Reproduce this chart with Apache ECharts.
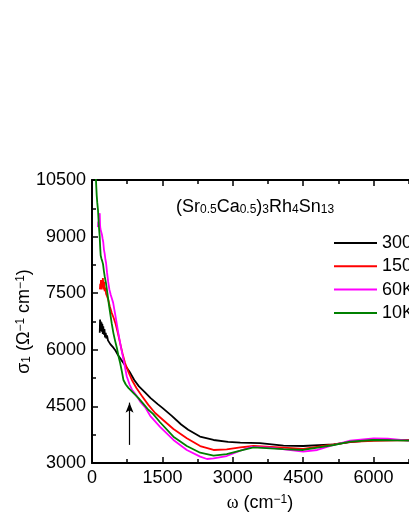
<!DOCTYPE html>
<html>
<head>
<meta charset="utf-8">
<script src="https://cdn.jsdelivr.net/npm/echarts@6/dist/echarts.min.js"></script>
<style>
    html, body { margin: 0; padding: 0; background: #fff; }
    #sigma_con { width: 409px; height: 529px; }
</style>
</head>
<body>
<div id="sigma_con"></div>
<script>
    // omega (cm^-1), sigma1 (Ohm^-1 cm^-1)
    var k300 = [[165,6450],[172,6800],[180,6550],[188,6750],[196,6500],[204,6720],[212,6480],[220,6680],[230,6420],[240,6620],[252,6400],[265,6550],[278,6330],[292,6450],[305,6300],[320,6380],[340,6250],[365,6200],[390,6150],[420,6100],[460,6050],[500,5980],[560,5850],[620,5740],[700,5600],[800,5420],[900,5200],[1000,5030],[1130,4870],[1250,4720],[1400,4560],[1500,4460],[1700,4250],[1900,4020],[2050,3880],[2300,3700],[2590,3610],[2900,3560],[3160,3540],[3580,3525],[4080,3460],[4500,3450],[5150,3495],[5500,3556],[6000,3610],[6500,3612],[7000,3605],[7500,3600]];
    var k150 = [[168,7600],[176,7750],[184,7650],[192,7850],[200,7600],[210,7800],[220,7650],[232,7900],[245,7600],[258,7800],[270,7550],[285,7650],[300,7480],[320,7420],[348,7320],[380,7150],[420,6980],[460,6850],[500,6700],[550,6450],[600,6170],[650,5900],[704,5650],[780,5400],[850,5200],[950,4980],[1060,4780],[1200,4540],[1345,4325],[1515,4140],[1735,3900],[2020,3655],[2305,3450],[2590,3345],[2870,3360],[3160,3415],[3440,3450],[4080,3410],[4500,3375],[5150,3490],[5500,3560],[6000,3585],[6500,3600],[7000,3605],[7500,3600]];
    var k60 = [[125,9250],[135,9400],[145,9300],[155,9500],[165,9620],[172,9300],[180,9200],[190,9150],[200,9250],[212,9050],[225,8950],[240,8850],[255,8650],[270,8550],[285,8400],[300,8300],[320,8050],[345,7800],[370,7600],[400,7450],[450,7250],[500,6900],[560,6450],[620,6050],[670,5750],[740,5300],[800,5080],[850,4950],[950,4780],[1030,4620],[1130,4480],[1240,4250],[1450,3960],[1735,3610],[2020,3345],[2305,3170],[2450,3106],[2590,3120],[2870,3185],[3160,3326],[3400,3430],[3800,3410],[4100,3360],[4500,3300],[4800,3345],[5150,3477],[5500,3590],[6000,3654],[6300,3645],[6750,3595],[7500,3580]];
    var k10 = [[78,10700],[90,10350],[100,10100],[112,9900],[128,9700],[145,9300],[164,9000],[175,8700],[185,8500],[200,8420],[218,8350],[235,8270],[252,8100],[270,7950],[300,7750],[330,7480],[360,7200],[384,7000],[420,6700],[455,6450],[490,6250],[530,6050],[570,5800],[600,5650],[640,5400],[670,5200],[720,5080],[775,4990],[880,4860],[990,4720],[1100,4560],[1200,4410],[1300,4300],[1450,4080],[1735,3697],[2020,3450],[2305,3273],[2590,3193],[2870,3238],[3160,3326],[3440,3415],[4080,3370],[4500,3345],[5150,3477],[5500,3565],[6000,3610],[6500,3600],[7000,3590],[7500,3590]];

    var seriesNames = ['300K', '150K', '60K', '10K'];
    var seriesColors = ['#000000', '#ff0000', '#ff00ff', '#008000'];
    var xRange = [0, 7500, 1500];
    var yRange = [3000, 10500, 1500];
    var arrowAt = [800, 3480, 4600]; // omega, sigma from, sigma to

    var font = '"Liberation Sans", Arial, sans-serif';
    var nameRich = {
        n: { fontSize: 18, lineHeight: 18, padding: [6, 0, 6, 0], fontFamily: font, color: '#000' },
        w: { fontSize: 18, lineHeight: 18, padding: [6, 0, 6, 0], fontFamily: '"Liberation Serif", serif', color: '#000' },
        sup: { fontSize: 12, lineHeight: 12, verticalAlign: 'top', fontFamily: font, color: '#000' },
        sub: { fontSize: 12, lineHeight: 12, verticalAlign: 'bottom', fontFamily: font, color: '#000' }
    };
    var titleRich = {
        n: { fontSize: 18, lineHeight: 18, padding: [0, 0, 5, 0], verticalAlign: 'top', fontWeight: 'normal', fontFamily: font, color: '#000' },
        sub: { fontSize: 12, lineHeight: 12, verticalAlign: 'bottom', fontWeight: 'normal', fontFamily: font, color: '#000' }
    };

    function axisCommon(showLabel) {
        return {
            axisLine: { show: true, lineStyle: { color: '#000', width: 2 } },
            axisTick: { show: true, inside: true, length: 6, lineStyle: { color: '#000', width: 1.5 } },
            minorTick: { show: true, splitNumber: 2, length: 4, lineStyle: { color: '#000', width: 1.5 } },
            axisLabel: {
                show: showLabel, margin: 6, fontSize: 18, color: '#000', fontFamily: font,
                formatter: function (v) { return String(v); }
            },
            splitLine: { show: false }
        };
    }

    var xBottom = Object.assign({
        type: 'value', position: 'bottom', min: xRange[0], max: xRange[1], interval: xRange[2],
        name: '{w|ω}{n| (cm}{sup|−1}{n|)}',
        nameLocation: 'middle', nameGap: 31, nameMoveOverlap: false,
        nameTextStyle: { rich: nameRich, padding: [0, 16, 0, 0] }
    }, axisCommon(true));
    var xTop = Object.assign({
        type: 'value', position: 'top', min: xRange[0], max: xRange[1], interval: xRange[2]
    }, axisCommon(false));
    var yLeft = Object.assign({
        type: 'value', position: 'left', min: yRange[0], max: yRange[1], interval: yRange[2],
        name: '{n|σ}{sub|1}{n| (Ω}{sup|−1}{n| cm}{sup|−1}{n|)}',
        nameLocation: 'middle', nameGap: 59, nameMoveOverlap: false,
        nameTextStyle: { rich: nameRich }
    }, axisCommon(true));

    var allData = [k300, k150, k60, k10];
    var series = allData.map(function (d, i) {
        return {
            name: seriesNames[i],
            type: 'line',
            data: d,
            symbol: 'none',
            showSymbol: false,
            clip: true,
            lineStyle: { color: seriesColors[i], width: 1.8 },
            itemStyle: { color: seriesColors[i] }
        };
    });
    series[0].markLine = {
        silent: true,
        symbol: ['none', 'arrow'],
        symbolSize: [6, 10],
        label: { show: false },
        lineStyle: { color: '#000', width: 1.2, type: 'solid' },
        data: [[{ coord: [arrowAt[0], arrowAt[1]] }, { coord: [arrowAt[0], arrowAt[2]] }]]
    };

    var option = {
        animation: false,
        backgroundColor: '#fff',
        grid: { left: 92, top: 180, bottom: 66, right: -35, outerBoundsMode: 'none' },
        title: {
            text: '{n|(Sr}{sub|0.5}{n|Ca}{sub|0.5}{n|)}{sub|3}{n|Rh}{sub|4}{n|Sn}{sub|13}',
            left: 171, top: 193,
            textStyle: { fontWeight: 'normal', rich: titleRich }
        },
        legend: {
            orient: 'vertical',
            left: 334, top: 233, padding: 0,
            icon: 'rect',
            itemWidth: 43, itemHeight: 2, itemGap: 3.3,
            textStyle: { fontSize: 18, lineHeight: 20, color: '#000', fontFamily: font },
            data: seriesNames
        },
        xAxis: [xBottom, xTop],
        yAxis: [yLeft],
        series: series
    };

    var sigmaChart = echarts.init(document.getElementById('sigma_con'));
    sigmaChart.setOption(option);
    window.addEventListener('resize', function () {
        sigmaChart.resize();
    });
</script>
</body>
</html>
